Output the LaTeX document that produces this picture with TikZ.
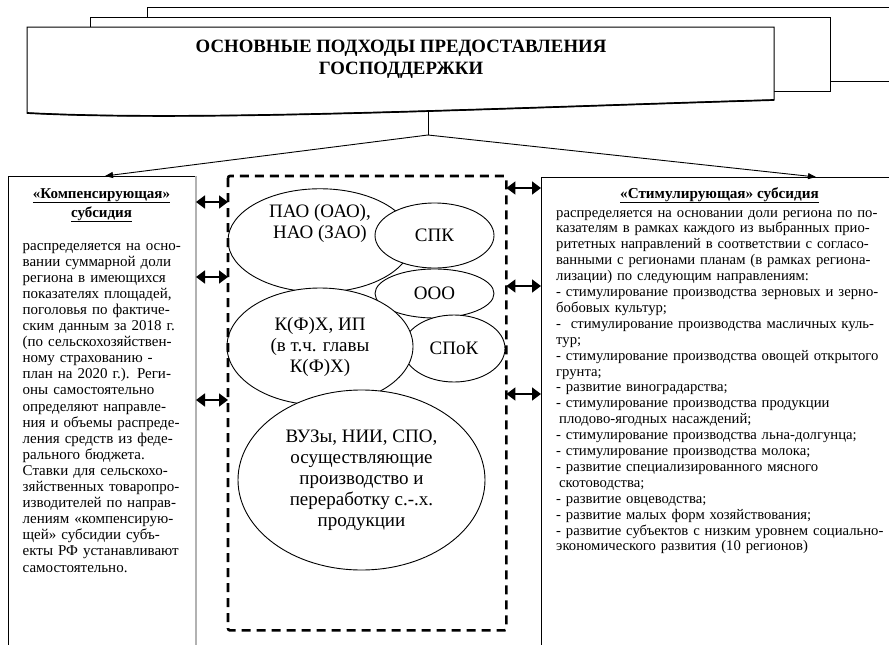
\documentclass[tikz,border=0pt]{standalone}
\usepackage{fontspec}
\setmainfont{Liberation Serif}
\usetikzlibrary{arrows.meta,shapes.geometric}
\newcommand{\LJ}[1]{\makebox[158pt][s]{#1}}
\newcommand{\RJ}[1]{\makebox[327pt][s]{#1}}
\begin{document}
\begin{tikzpicture}[x=1pt,y=-1pt,
  box/.style={draw, line width=1pt, inner sep=0, anchor=north west},
  ell/.style={ellipse, draw, fill=white, line width=0.9pt, inner sep=0, align=center, font=\fontsize{19}{21}\selectfont},
  dbl/.style={line width=1.6pt, {Triangle[length=9pt,width=13pt]}-{Triangle[length=9pt,width=13pt]}},
  conn/.style={line width=0.9pt, -{Triangle[length=8pt,width=6pt]}},
  body/.style={inner sep=0, anchor=base west, align=left},
  head/.style={inner sep=0, anchor=base, align=center, font=\bfseries\fontsize{15}{19}\selectfont},
  dashbox/.style={line width=2.6pt, dash pattern=on 9pt off 6pt, rounded corners=2pt},
  banner/.style={fill=white, line width=1pt}
]
\useasboundingbox (0,0) rectangle (889,645);
\clip (0,0) rectangle (889,645);

% stacked banners
\draw[banner] (147,7) rectangle (910,81);
\draw[banner] (90,17) rectangle (830,91);
\draw[banner] (27,27) -- (774,27) -- (774,100) .. controls (500,108) and (200,122) .. (27,113) -- cycle;
\draw[line width=1.7pt] (774,100) .. controls (500,108) and (200,122) .. (27,113);
\node[font=\bfseries\fontsize{18.8}{22}\selectfont, align=center, inner sep=0] (title) at (401,59)
  {ОСНОВНЫЕ ПОДХОДЫ ПРЕДОСТАВЛЕНИЯ\\ГОСПОДДЕРЖКИ};

% side boxes
\node[box, minimum width=187pt, minimum height=560pt] (lbox) at (8,176) {};
\draw[gray!60, line width=1.2pt] (lbox.north east) -- (lbox.south east);
\node[box, minimum width=400pt, minimum height=560pt, line width=1.3pt] (rbox) at (541,177) {};

% connectors from title
\coordinate (bb) at (428,112);
\coordinate (apex) at (428,135);
\coordinate (lt) at (105,176);
\coordinate (rt) at (816,177);
\draw[line width=0.9pt] (bb) -- (apex);
\draw[conn] (apex) -- (lt);
\draw[conn] (apex) -- (rt);

% left text
\node[head] (lhead) at (101.5,217) {\underline{«Компенсирующая»}\\\underline{субсидия}};
\node[body, text width=158pt, font=\fontsize{15}{16.1}\selectfont] (ltxt) at (22.5,250) {%
\LJ{распределяется на осно-}\\
\LJ{вании суммарной доли}\\
\LJ{региона в имеющихся}\\
\LJ{показателях площадей,}\\
\LJ{поголовья по фактиче-}\\
\LJ{ским данным за 2018 г.}\\
\LJ{(по сельскохозяйствен-}\\
\LJ{ному страхованию -}\\
\LJ{план на 2020 г.). Реги-}\\
\LJ{оны самостоятельно}\\
\LJ{определяют направле-}\\
\LJ{ния и объемы распреде-}\\
\LJ{ления средств из феде-}\\
\LJ{рального бюджета.}\\
\LJ{Ставки для сельскохо-}\\
\LJ{зяйственных товаропро-}\\
\LJ{изводителей по направ-}\\
\LJ{лениям «компенсирую-}\\
\LJ{щей» субсидии субъ-}\\
\LJ{екты РФ устанавливают}\\
самостоятельно.};

% right text
\node[head, font=\bfseries\fontsize{15.2}{19}\selectfont] (rhead) at (719.5,198) {\underline{«Стимулирующая» субсидия}};
\node[body, text width=327pt, font=\fontsize{14.7}{15.9}\selectfont] (rtxt) at (556,217) {%
\RJ{распределяется на основании доли региона по по-}\\
\RJ{казателям в рамках каждого из выбранных прио-}\\
\RJ{ритетных направлений в соответствии с согласо-}\\
\RJ{ванными с регионами планам (в рамках региона-}\\
лизации) по следующим направлениям:\\
\RJ{- стимулирование производства зерновых и зерно-}\\
бобовых культур;\\
\RJ{-~~стимулирование производства масличных куль-}\\
тур;\\
\RJ{- стимулирование производства овощей открытого}\\
грунта;\\
- развитие виноградарства;\\
- стимулирование производства продукции\\
\hspace*{3pt}плодово-ягодных насаждений;\\
- стимулирование производства льна-долгунца;\\
- стимулирование производства молока;\\
- развитие специализированного мясного\\
\hspace*{3pt}скотоводства;\\
- развитие овцеводства;\\
- развитие малых форм хозяйствования;\\
\RJ{- развитие субъектов с низким уровнем социально-}\\
экономического развития (10 регионов)};

% dashed container (outline drawn after the ellipses)
\node[inner sep=0, anchor=north west, minimum width=278pt, minimum height=454pt] (dbox) at (228,176) {};

% ellipses
\node[ell, minimum width=184pt, minimum height=95pt, text depth=39pt] (pao) at (320,240.5) {ПАО (ОАО),\\НАО (ЗАО)};
\node[ell, minimum width=119pt, minimum height=65pt] (spk) at (434.5,235.5) {СПК};
\node[ell, minimum width=119pt, minimum height=49pt] (ooo) at (434.5,293.5) {ООО};
\node[ell, minimum width=102pt, minimum height=67pt] (spok) at (454,348.5) {СПоК};
\node[ell, minimum width=186pt, minimum height=117pt] (kfh) at (320,346.5) {К(Ф)Х, ИП\\(в т.ч. главы\\К(Ф)Х)};
\node[ell, minimum width=247pt, minimum height=180pt] (vuz) at (361.5,480) {ВУЗы, НИИ, СПО,\\осуществляющие\\производство и\\переработку с.-.х.\\продукции};

\draw[dashbox] (dbox.north west) rectangle (dbox.south east);

% double arrows
\coordinate (ya) at (0,202);
\coordinate (yb) at (0,277);
\coordinate (yc) at (0,400);
\coordinate (yd) at (0,188);
\coordinate (ye) at (0,286);
\coordinate (yf) at (0,394);
\draw[dbl] (lbox.east |- ya) -- (dbox.west |- ya);
\draw[dbl] (lbox.east |- yb) -- (dbox.west |- yb);
\draw[dbl] (lbox.east |- yc) -- (dbox.west |- yc);
\draw[dbl] (dbox.east |- yd) -- (rbox.west |- yd);
\draw[dbl] (dbox.east |- ye) -- (rbox.west |- ye);
\draw[dbl] (dbox.east |- yf) -- (rbox.west |- yf);
\end{tikzpicture}
\end{document}
